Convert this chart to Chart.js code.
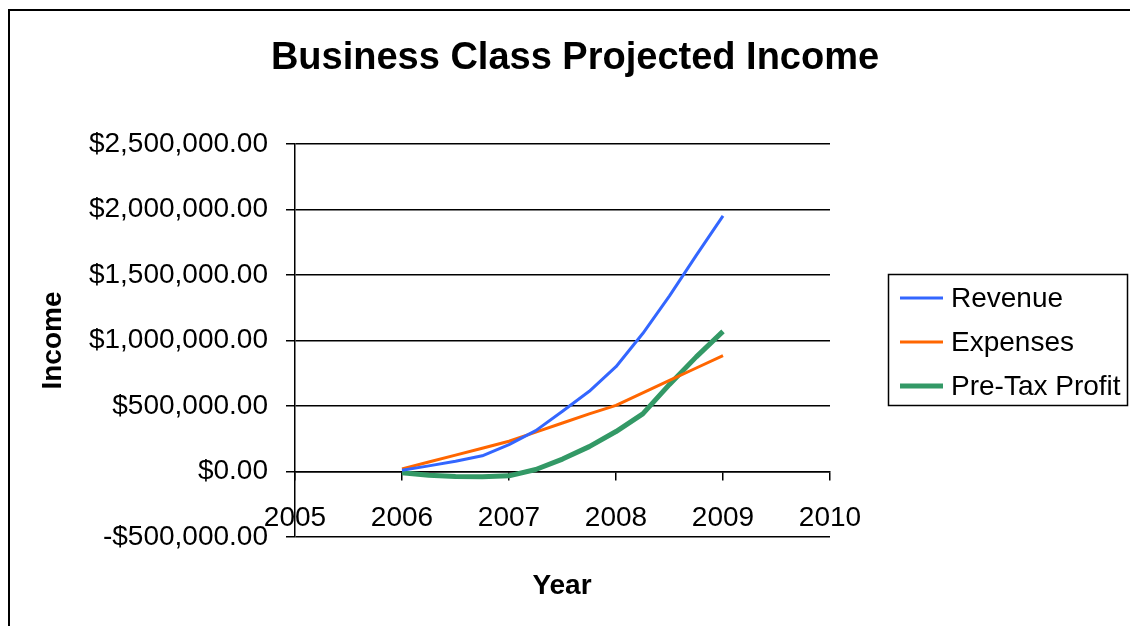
<!DOCTYPE html>
<html>
<head>
<meta charset="utf-8">
<script src="https://cdn.jsdelivr.net/npm/chart.js@4.4.1/dist/chart.umd.min.js"></script>
<style>
  html, body { margin: 0; padding: 0; background: #fff; }
  #wrap { width: 1130px; height: 626px; }
</style>
</head>
<body>
<div id="wrap"><canvas id="incomeChart" width="1130" height="626"></canvas></div>
<script>
// quarterly points
const quarters = [2006, 2006.25, 2006.5, 2006.75, 2007, 2007.25, 2007.5, 2007.75, 2008, 2008.25, 2008.5, 2008.75, 2009];
const revenue  = [10000, 43000, 78000, 120000, 205000, 312000, 460000, 612000, 800000, 1053000, 1341000, 1650000, 1952000];
const expenses = [20000, 72000, 125000, 178000, 231000, 300000, 370000, 440000, 505000, 600000, 695000, 790000, 884000];
const profit   = [-10000, -28000, -38000, -40000, -33000, 15000, 95000, 190000, 305000, 440000, 665000, 875000, 1070000];
const seriesNames = ["Revenue", "Expenses", "Pre-Tax Profit"];
const yearTicks = [2005, 2006, 2007, 2008, 2009, 2010];

const FONT = "'Liberation Sans', Arial, sans-serif";

function toPoints(values) {
    return quarters.map((q, i) => ({ x: q, y: values[i] }));
}

function money(v) {
    const s = Math.abs(v).toLocaleString("en-US", { minimumFractionDigits: 2, maximumFractionDigits: 2 });
    return (v < 0 ? "-$" : "$") + s;
}

// title, x-axis title, outer frame and boxed legend
const decorations = {
    id: "decorations",
    afterDraw(chart) {
        const ctx = chart.ctx;
        ctx.save();
        ctx.strokeStyle = "#000";
        ctx.lineWidth = 2;
        ctx.beginPath();
        ctx.moveTo(9, 640);
        ctx.lineTo(9, 10);
        ctx.lineTo(1140, 10);
        ctx.stroke();

        ctx.fillStyle = "#000";
        ctx.textAlign = "center";
        ctx.textBaseline = "middle";
        ctx.font = "bold 38px " + FONT;
        ctx.fillText("Business Class Projected Income", 575, 59);
        ctx.font = "bold 28px " + FONT;
        ctx.fillText("Year", 562, 586);

        // legend
        ctx.lineWidth = 1.5;
        ctx.strokeRect(888.5, 274.5, 239, 131);
        ctx.font = "28px " + FONT;
        ctx.textAlign = "left";
        chart.data.datasets.forEach((ds, i) => {
            const y = 298 + i * 44;
            ctx.strokeStyle = ds.borderColor;
            ctx.lineWidth = ds.borderWidth;
            ctx.beginPath();
            ctx.moveTo(900, y);
            ctx.lineTo(943, y);
            ctx.stroke();
            ctx.fillStyle = "#000";
            ctx.fillText(ds.label, 951, y + 1);
        });
        ctx.restore();
    }
};

new Chart(document.getElementById("incomeChart"), {
    type: "line",
    data: {
        datasets: [{
            label: seriesNames[0],
            data: toPoints(revenue),
            borderColor: "#3366FF",
            borderWidth: 3
        }, {
            label: seriesNames[1],
            data: toPoints(expenses),
            borderColor: "#FF6600",
            borderWidth: 3
        }, {
            label: seriesNames[2],
            data: toPoints(profit),
            borderColor: "#339966",
            borderWidth: 5
        }]
    },
    options: {
        responsive: false,
        animation: false,
        devicePixelRatio: 1,
        layout: { padding: { left: 0, top: 144, right: 300, bottom: 89 } },
        elements: {
            point: { radius: 0, hoverRadius: 0 },
            line: { tension: 0, borderCapStyle: "butt", borderJoinStyle: "round" }
        },
        plugins: {
            legend: { display: false },
            title: { display: false },
            tooltip: { enabled: false }
        },
        scales: {
            x: {
                type: "linear",
                position: { y: 0 },
                min: 2005,
                max: 2010,
                afterBuildTicks(scale) {
                    scale.ticks = yearTicks.map(v => ({ value: v }));
                },
                ticks: {
                    color: "#000",
                    font: { family: FONT, size: 28 },
                    padding: 22,
                    maxRotation: 0,
                    autoSkip: false,
                    callback: v => String(v)
                },
                grid: { drawOnChartArea: false, color: "#000", lineWidth: 1.5, tickLength: 8 },
                border: { color: "#000", width: 1.5 }
            },
            y: {
                min: -500000,
                max: 2500000,
                afterFit(scale) { scale.width = 295; },
                ticks: {
                    stepSize: 500000,
                    color: "#000",
                    font: { family: FONT, size: 28 },
                    padding: 18,
                    callback: v => money(v)
                },
                grid: { color: "#000", lineWidth: 1.5, tickLength: 9 },
                border: { color: "#000", width: 1.5 },
                title: {
                    display: true,
                    text: "Income",
                    color: "#000",
                    font: { family: FONT, size: 28, weight: "bold" },
                    padding: { top: 36, bottom: 0 }
                }
            }
        }
    },
    plugins: [decorations]
});
</script>
</body>
</html>
